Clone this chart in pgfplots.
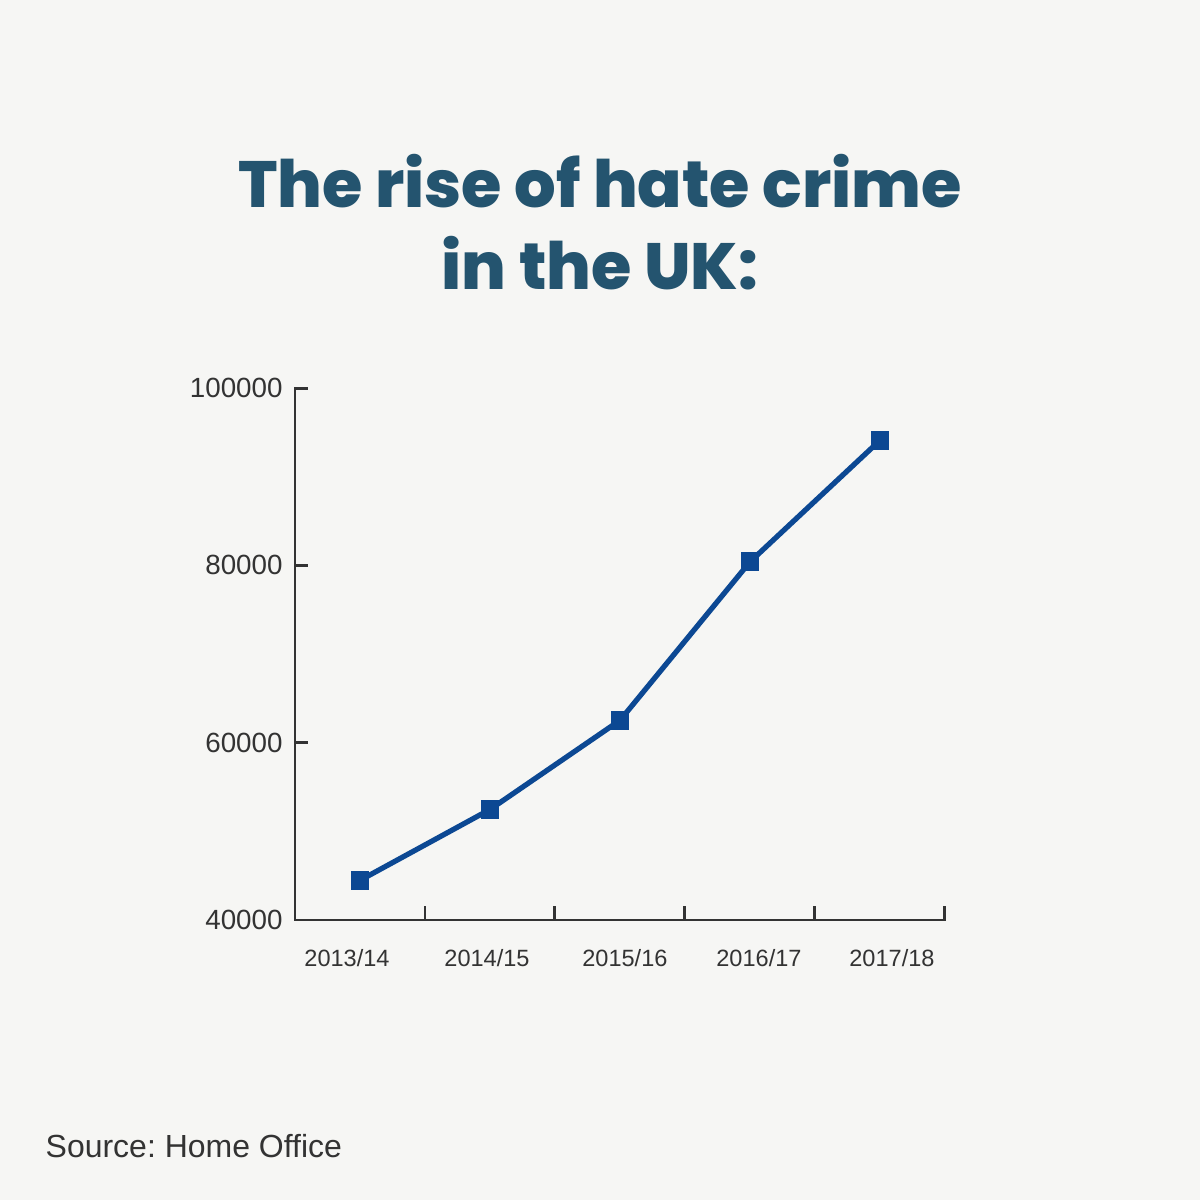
\documentclass[border=0pt]{standalone}
\usepackage{pgfplots}
\pgfplotsset{compat=1.18}
\usepackage{fontspec}
\setmainfont{Liberation Sans}
\newfontfamily\titlefont{Poppins}[BoldFont={Poppins ExtraBold}]
\definecolor{bg}{HTML}{F6F6F4}
\definecolor{titlec}{HTML}{24546F}
\definecolor{linec}{HTML}{0C4893}
\definecolor{axc}{HTML}{333333}
\frenchspacing
\begin{document}
\begin{tikzpicture}
\fill[bg] (0,0) rectangle (12cm,12cm);
\node[anchor=base, text=titlec, font=\titlefont\bfseries\fontsize{18.6}{22}\selectfont, inner sep=0pt] at (6cm,9.92cm) {The rise of hate crime};
\node[anchor=base, text=titlec, font=\titlefont\bfseries\fontsize{18.6}{22}\selectfont, inner sep=0pt] at (6cm,9.10cm) {in the UK:};
\node[anchor=base west, text=axc, font=\fontsize{9.1}{11}\selectfont, inner sep=0pt] at (0.45cm,0.42cm) {Source: Home Office};
\begin{axis}[
  at={(2.95cm,2.80cm)}, anchor=south west,
  scale only axis, width=6.5cm, height=5.32cm,
  xmin=-0.5, xmax=4.5, ymin=40000, ymax=100000,
  axis lines*=left,
  axis line style={axc, line width=0.85pt, line cap=rect},
  xtick={-0.1,0.977,2.038,3.069,4.092},
  xticklabels={2013/14,2014/15,2015/16,2016/17,2017/18},
  ytick={40000,60000,80000,100000},
  minor xtick={0.5,1.5,2.5,3.5,4.5},
  minor ytick={40000,60000,80000,100000},
  major tick length=0pt,
  minor tick length=1.35mm,
  tick align=inside,
  every minor tick/.style={axc, line width=0.85pt},
  /pgf/number format/assume math mode=true,
  scaled y ticks=false,
  yticklabel={\pgfmathprintnumber[fixed, 1000 sep={}]{\tick}},
  yticklabel style={font=\fontsize{7.9}{9}\selectfont, text=axc, xshift=0mm},
  xticklabel style={font=\fontsize{6.7}{8}\selectfont, text=axc, yshift=-1.7mm},
  clip=false,
]
\addplot[linec, line width=1.5pt, mark=square*, mark size=2.55pt, mark options={solid, fill=linec, draw=linec, line width=0pt}] coordinates {
(0,44471) (1,52465) (2,62518) (3,80393) (4,94098)
};
\end{axis}
\end{tikzpicture}
\end{document}
